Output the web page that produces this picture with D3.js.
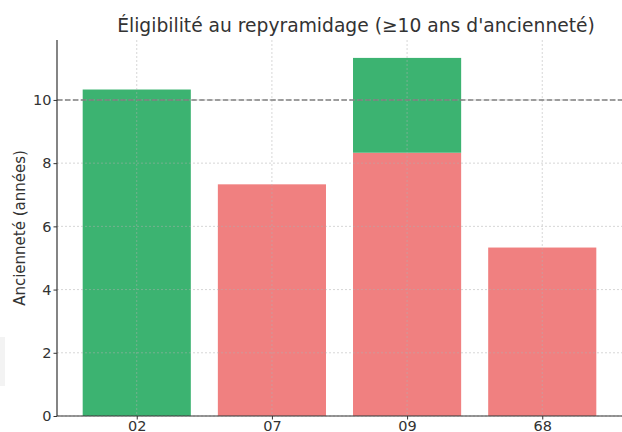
<!DOCTYPE html>
<html>
<head>
<meta charset="utf-8">
<script src="https://cdn.jsdelivr.net/npm/d3@7"></script>
<style>
  body { margin: 0; background: #fff; }
  text { font-family: "DejaVu Sans", sans-serif; }
</style>
</head>
<body>
<div id="chart"></div>
<script>
  // data
  var categories = ["02", "07", "09", "68"];
  var baseValues = [10.33, 7.33, 8.33, 5.33];   // first segment
  var baseEligible = [true, false, false, false]; // green when ≥10
  var extraValues = [0, 0, 3.0, 0];             // green segment on top
  var threshold = 10;
  var yTicks = [0, 2, 4, 6, 8, 10];

  var svgWidth = 622;
  var svgHeight = 432;
  var margin = { top: 40, right: 0, bottom: 16, left: 57 };
  var width = svgWidth - margin.left - margin.right;
  var height = svgHeight - margin.top - margin.bottom;

  var svg = d3.select("#chart")
    .append("svg")
    .attr("width", svgWidth)
    .attr("height", svgHeight);

  // faint box at the left edge of the screenshot
  svg.append("rect")
    .attr("x", 0).attr("y", 337)
    .attr("width", 5).attr("height", 49)
    .attr("fill", "#f3f3f3");

  var chartGroup = svg.append("g")
    .attr("transform", `translate(${margin.left}, ${margin.top})`);

  // scales, matplotlib-like margins
  var xScale = d3.scaleLinear()
    .domain([-0.59, categories.length - 1 + 0.59])
    .range([0, width]);
  var barW = xScale(0.8) - xScale(0);

  var yMax = d3.max(baseValues.map((v, i) => v + extraValues[i])) * 1.05;
  var yScale = d3.scaleLinear()
    .domain([0, yMax])
    .range([height, 0]);

  // bars
  chartGroup.selectAll(".base")
    .data(baseValues)
    .enter()
    .append("rect")
    .attr("x", (d, i) => xScale(i) - barW / 2)
    .attr("y", d => yScale(d))
    .attr("width", barW)
    .attr("height", d => height - yScale(d))
    .attr("fill", (d, i) => baseEligible[i] ? "#3cb371" : "#f08080");

  var extraIdx = d3.range(categories.length).filter(i => extraValues[i] > 0);
  chartGroup.selectAll(".extra")
    .data(extraIdx)
    .enter()
    .append("rect")
    .attr("x", i => xScale(i) - barW / 2)
    .attr("y", i => yScale(baseValues[i] + extraValues[i]))
    .attr("width", barW)
    .attr("height", i => yScale(baseValues[i]) - yScale(baseValues[i] + extraValues[i]))
    .attr("fill", "#3cb371");

  // grid (drawn over bars)
  chartGroup.append("g")
    .selectAll("line")
    .data(yTicks)
    .enter()
    .append("line")
    .attr("x1", 0).attr("x2", width)
    .attr("y1", d => yScale(d)).attr("y2", d => yScale(d))
    .attr("stroke", "#b0b0b0")
    .attr("stroke-opacity", 0.5)
    .attr("stroke-dasharray", "2,2");

  chartGroup.append("g")
    .selectAll("line")
    .data(categories)
    .enter()
    .append("line")
    .attr("x1", (d, i) => xScale(i)).attr("x2", (d, i) => xScale(i))
    .attr("y1", 0).attr("y2", height)
    .attr("stroke", "#b0b0b0")
    .attr("stroke-opacity", 0.5)
    .attr("stroke-dasharray", "2,2");

  // threshold line
  chartGroup.append("line")
    .attr("x1", 0).attr("x2", width)
    .attr("y1", yScale(threshold)).attr("y2", yScale(threshold))
    .attr("stroke", "#808080")
    .attr("stroke-width", 1.5)
    .attr("stroke-dasharray", "5.5,2.4");

  // axes
  var leftAxis = d3.axisLeft(yScale).tickValues(yTicks).tickSize(3.5).tickPadding(2);
  var bottomAxis = d3.axisBottom(xScale)
    .tickValues(d3.range(categories.length))
    .tickFormat(i => categories[i])
    .tickSize(3.5).tickPadding(1.5);

  var yAxisG = chartGroup.append("g").call(leftAxis);
  var xAxisG = chartGroup.append("g")
    .attr("transform", `translate(0, ${height})`)
    .call(bottomAxis);

  [yAxisG, xAxisG].forEach(function(g) {
    g.select(".domain").attr("stroke", "#333").attr("stroke-width", 1.2);
    g.selectAll(".tick line").attr("stroke", "#333");
    g.selectAll(".tick text")
      .attr("fill", "#333")
      .attr("font-size", "14.5px")
      .attr("font-family", "DejaVu Sans, sans-serif");
  });
  yAxisG.select(".domain").attr("d", `M0,0V${height}`);
  xAxisG.select(".domain").attr("d", `M0,0H${width}`);

  // title and label
  svg.append("text")
    .attr("x", 356)
    .attr("y", 32)
    .attr("text-anchor", "middle")
    .attr("font-size", "18.7px")
    .attr("fill", "#333")
    .text("Éligibilité au repyramidage (≥10 ans d'ancienneté)");

  svg.append("text")
    .attr("transform", `translate(25, ${margin.top + height / 2}) rotate(-90)`)
    .attr("text-anchor", "middle")
    .attr("font-size", "15px")
    .attr("fill", "#333")
    .text("Ancienneté (années)");
</script>
</body>
</html>
